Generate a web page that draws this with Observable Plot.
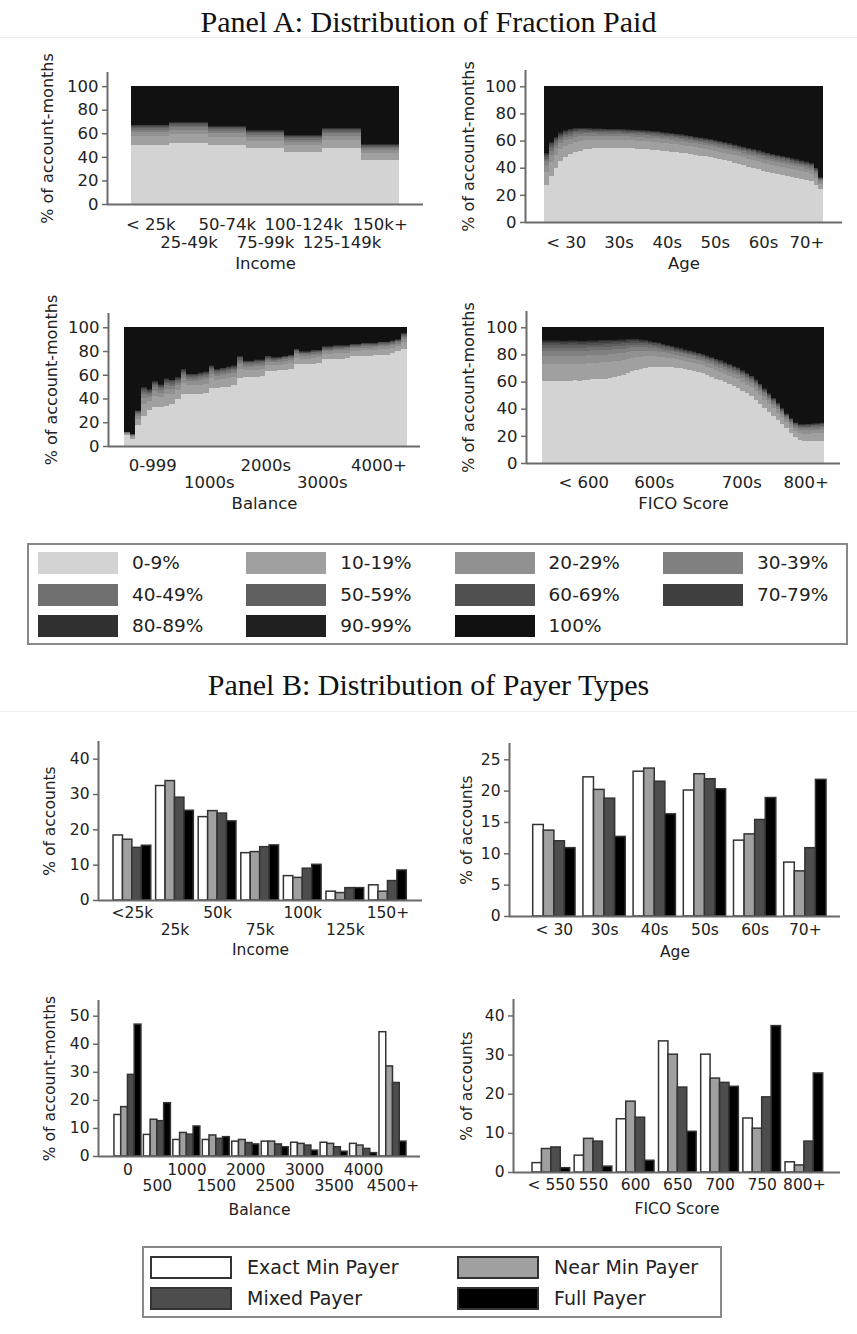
<!DOCTYPE html>
<html><head><meta charset="utf-8">
<script src="https://cdn.jsdelivr.net/npm/d3@7"></script>
<script src="https://cdn.jsdelivr.net/npm/@observablehq/plot@0.6"></script>
<style>
body{margin:0;background:#fff;font-family:"DejaVu Sans",sans-serif;}
#page{position:relative;width:857px;height:1334px;overflow:hidden;background:#fff;}
.chart{position:absolute;}
.title{position:absolute;left:0;width:857px;text-align:center;font-family:"Liberation Serif",serif;font-size:30px;line-height:30px;color:#111;white-space:nowrap;}
.hline{position:absolute;left:0;width:857px;height:1px;background:#eceff0;}
.legend{position:absolute;border:2px solid #888;box-sizing:border-box;background:#fff;}
.sw{position:absolute;box-sizing:border-box;}
.lt{position:absolute;font-family:"DejaVu Sans",sans-serif;color:#222;white-space:nowrap;}
</style></head><body><div id="page"></div>
<script>
// ---------------- Panel A data ----------------
const fracBins = ["0-9%","10-19%","20-29%","30-39%","40-49%","50-59%","60-69%","70-79%","80-89%","90-99%","100%"];
const fracColors = ["#d3d3d3","#a0a0a0","#909090","#808080","#707070","#606060","#505050","#404040","#303030","#202020","#111111"];
// relative split of the band between "0-9%" and "100%" among the nine middle bins
const midWeights = [0.42,0.2,0.12,0.08,0.06,0.045,0.035,0.025,0.015];

const incomeCatsA = ["< 25k","25-49k","50-74k","75-99k","100-124k","125-149k","150k+"];
const incomeA_0_9 = [50, 51.4, 50, 47.2, 43.8, 47.2, 37.4];
const incomeA_below100 = [67.4, 69.7, 66.3, 62.6, 58.4, 64.6, 50.8];

const agesA = d3.range(20, 78);
const ageA_0_9 = [27,34,40,45,48,50,51.5,52.5,53.5,54,54.3,54.5,54.6,54.6,54.6,54.6,54.5,54.4,54.3,54.1,53.9,53.6,53.3,53,52.6,52.2,51.8,51.4,51,50.5,50,49.5,49,48.3,47.6,47,46.3,45.5,44.6,43.7,42.7,41.7,40.7,39.7,38.7,37.8,36.9,36,35.2,34.4,33.6,32.9,32.2,31.5,30.8,30,27.5,24.5];
const ageA_below100 = [51,59,63,66,67.5,68.5,69.2,69.5,69.5,69.3,69.1,68.9,68.8,68.7,68.6,68.5,68.4,68.3,68.1,67.9,67.7,67.5,67.2,66.9,66.5,66.1,65.7,65.2,64.7,64.2,63.6,63,62.4,61.8,61.1,60.4,59.7,58.9,58.1,57.3,56.5,55.6,54.7,53.8,52.9,52,51.1,50.3,49.5,48.7,47.9,47.1,46.3,45.5,44.7,43.5,40,33];
const ageTicksA = [24.5,35.5,45.5,55.5,65.5,74.5];
const ageLabelsA = ["< 30","30s","40s","50s","60s","70+"];

const balanceA = d3.range(0, 5000, 100);
const balA_0_9 = [9,6,18,25,30,33,33,34,35,40,44,44,44,44,45,49,49,50,50,51,57,58,58,58,59,63,63,64,64,65,69,69,69,69,70,73,73,73,73,74,76,76,76,76,77,77,77,78,80,82];
const balA_below100 = [12,10,30,50,48,55,52,57,56,58,65,61,61,62,63,68,65,66,67,68,76,72,72,73,73,76,75,75,76,77,82,80,80,81,81,84,84,85,85,85,86,86,87,87,87,88,88,89,90,95];
const balTicksA = [500,1500,2500,3500,4500];
const balLabelsA = ["0-999","1000s","2000s","3000s","4000+"];

const ficoA = d3.range(525, 845, 5);
const ficoA_0_9 = [60.5,60.5,60.5,60.5,60.5,60.3,60.5,60.8,60.5,61,61.3,61.6,62,62.2,62.2,62.5,63.5,64,64.6,66,67.5,68.5,69.3,70,70.5,70.7,70.7,70.7,70.6,70.4,70.1,69.8,69.3,68.7,68,67,66,64.8,63.5,62.2,60.8,59.5,58,56.5,55,53.3,51.5,49.5,46.5,43.5,40.5,37.5,34.5,31.5,28.5,25.5,22,19,17,16.3,16.3,16.5,16.3,16.5];
const ficoA_below100 = [90.5,90.5,90.3,90.3,90.2,90.2,90.3,90.3,90.2,90.2,90.4,90.5,90.6,90.7,90.8,90.9,91,91.2,91.3,91.4,91.5,91.4,91.1,90.7,90.2,89.5,88.8,88,87.2,86.3,85.4,84.6,83.8,83,82.2,81.4,80.4,79.3,78.2,77,75.8,74.4,73,71.6,70.6,68.5,66.4,64.4,61.7,58.5,55,51.5,48,44.5,40.5,36.5,33,30,28.8,28.8,29,29.2,29.5,30];
const ficoTicksA = [572,652,751,824];
const ficoLabelsA = ["< 600","600s","700s","800+"];

const yTicksA = [0,20,40,60,80,100];

// ---------------- Panel B data ----------------
const payerTypes = ["Exact Min Payer","Near Min Payer","Mixed Payer","Full Payer"];
const payerColors = ["#ffffff","#a0a0a0","#4d4d4d","#000000"];

const incomeGroupsB = ["<25k","25k","50k","75k","100k","125k","150+"];
const incExact = [18.4,32.4,23.6,13.4,6.9,2.5,4.3];
const incNear  = [17.2,33.8,25.3,13.7,6.4,2.1,2.5];
const incMixed = [14.9,29.1,24.6,15.1,9.0,3.5,5.5];
const incFull  = [15.5,25.4,22.4,15.6,10.1,3.5,8.5];

const ageGroupsB = ["< 30","30s","40s","50s","60s","70+"];
const ageExact = [14.6,22.2,23.1,20.1,12.1,8.6];
const ageNear  = [13.7,20.2,23.6,22.7,13.1,7.2];
const ageMixed = [12.0,18.8,21.5,21.9,15.4,10.9];
const ageFull  = [10.9,12.7,16.3,20.3,18.9,21.8];

const balGroupsB = ["0","500","1000","1500","2000","2500","3000","3500","4000","4500+"];
const balExact = [14.8,7.7,5.9,5.9,5.3,5.3,4.9,4.9,4.5,44.3];
const balNear  = [17.6,13.1,8.4,7.5,5.9,5.3,4.5,4.5,3.9,32.1];
const balMixed = [29.1,12.6,7.8,6.3,4.8,4.3,3.9,3.3,2.7,26.2];
const balFull  = [47.0,19.0,10.7,6.9,4.3,3.3,2.1,1.7,1.2,5.3];

const ficoGroupsB = ["< 550","550","600","650","700","750","800+"];
const ficoExact = [2.4,4.3,13.6,33.5,30.1,13.8,2.6];
const ficoNear  = [6.0,8.6,18.1,30.1,24.0,11.2,1.8];
const ficoMixed = [6.4,7.9,14.0,21.7,22.9,19.2,7.9];
const ficoFull  = [1.1,1.5,3.0,10.4,21.9,37.4,25.3];

// ---------------- builders ----------------
const page = document.getElementById("page");

function fracRows(starts, width, lo, below) {
  const rows = [];
  starts.forEach((s, i) => {
    const mid = below[i] - lo[i];
    fracBins.forEach((b, k) => {
      const v = k === 0 ? lo[i] : k === fracBins.length - 1 ? 100 - below[i] : mid * midWeights[k - 1];
      rows.push({x1: s, x2: s + width, bin: b, value: v});
    });
  });
  return rows;
}

function groupRows(groups, series, gw) {
  const rows = [];
  groups.forEach((g, i) => {
    series.forEach((arr, k) => {
      rows.push({x1: i - gw / 2 + k * gw / 4, x2: i - gw / 2 + (k + 1) * gw / 4, type: payerTypes[k], value: arr[i]});
    });
  });
  return rows;
}

function makeChart(cfg, dataMarks, colorOpt) {
  const ticks = cfg.ticks;
  const fs = cfg.fs;
  const marks = [
    ...dataMarks,
    Plot.ruleY([0], {stroke: "#6a6a6a", strokeWidth: 2}),
    Plot.ruleX([cfg.xDomain[0]], {y1: 0, y2: cfg.yMax, stroke: "#6a6a6a", strokeWidth: 2}),
    Plot.axisY({ticks: cfg.yTicks, tickSize: 5, tickPadding: 4, stroke: "#6a6a6a", strokeWidth: 1.5, fill: "#222", fontSize: fs, label: null, tickFormat: d => String(d)}),
    Plot.text(ticks.filter(t => t.row === 0), {x: "pos", y: () => 0, text: "label", dy: cfg.row1, fill: "#222", fontSize: fs, lineAnchor: "middle", textAnchor: "middle"}),
    Plot.text(ticks.filter(t => t.row === 1), {x: "pos", y: () => 0, text: "label", dy: cfg.row2 || 0, fill: "#222", fontSize: fs, lineAnchor: "middle", textAnchor: "middle"}),
    Plot.text([cfg.xTitle], {text: d => d, frameAnchor: "bottom", dy: cfg.titleDy, fill: "#222", fontSize: fs, lineAnchor: "middle", textAnchor: "middle"}),
    Plot.text([cfg.yTitle], {text: d => d, frameAnchor: "left", rotate: -90, dx: cfg.yTitleDx, fill: "#222", fontSize: cfg.yfs, lineAnchor: "middle", textAnchor: "middle"})
  ];
  const svg = Plot.plot({
    width: cfg.width, height: cfg.height,
    marginLeft: cfg.ml, marginRight: cfg.mr, marginTop: cfg.mt, marginBottom: cfg.mb,
    x: {domain: cfg.xDomain, axis: null},
    y: {domain: [0, cfg.yMax], axis: null},
    color: colorOpt,
    style: {fontFamily: "DejaVu Sans", fontSize: fs + "px", color: "#222", background: "transparent", overflow: "visible"},
    marks
  });
  const div = document.createElement("div");
  div.className = "chart";
  div.style.left = cfg.left + "px";
  div.style.top = cfg.top + "px";
  div.style.width = cfg.width + "px";
  div.appendChild(svg);
  page.appendChild(div);
}

const fracColor = {domain: fracBins, range: fracColors};
const payerColor = {domain: payerTypes, range: payerColors};

function fracMark(rows) {
  return Plot.rectY(rows, {x1: "x1", x2: "x2", y: "value", fill: "bin", shapeRendering: "crispEdges"});
}
function barMark(rows) {
  return Plot.rectY(rows, {x1: "x1", x2: "x2", y1: 0, y2: "value", fill: "type", stroke: "#333", strokeWidth: 1.5});
}

// ---------------- titles ----------------
function addTitle(text, top, lineTop) {
  const t = document.createElement("div");
  t.className = "title"; t.style.top = top + "px"; t.textContent = text;
  page.appendChild(t);
  const l = document.createElement("div");
  l.className = "hline"; l.style.top = lineTop + "px";
  page.appendChild(l);
}
addTitle("Panel A: Distribution of Fraction Paid", 7, 37);
addTitle("Panel B: Distribution of Payer Types", 670, 711);

// ---------------- Panel A charts ----------------
const fsA = 16.5, fsB = 15.5;
makeChart({
  left: 0, top: 50, width: 430, height: 226, ml: 107, mr: 7, mt: 22, mb: 72, fs: fsA, yfs: 16,
  xDomain: [-0.63, 7.63], yMax: 112, yTicks: yTicksA,
  ticks: incomeCatsA.map((c, i) => ({pos: i + 0.5, label: c, row: i % 2})),
  row1: 20, row2: 38, xTitle: "Income", titleDy: 59,
  yTitle: "% of account-months", yTitleDx: -60
}, [fracMark(fracRows(incomeCatsA.map((c, i) => i), 1, incomeA_0_9, incomeA_below100))], fracColor);

makeChart({
  left: 430, top: 50, width: 427, height: 226, ml: 95, mr: 15, mt: 20, mb: 54, fs: fsA, yfs: 16,
  xDomain: [16.05, 81.9], yMax: 112, yTicks: yTicksA,
  ticks: ageTicksA.map((p, i) => ({pos: p, label: ageLabelsA[i], row: 0})),
  row1: 20, xTitle: "Age", titleDy: 41,
  yTitle: "% of account-months", yTitleDx: -57
}, [fracMark(fracRows(agesA, 1, ageA_0_9, ageA_below100))], fracColor);

makeChart({
  left: 0, top: 290, width: 430, height: 226, ml: 108, mr: 10, mt: 23, mb: 70, fs: fsA, yfs: 16,
  xDomain: [-283, 5235], yMax: 112, yTicks: yTicksA,
  ticks: balTicksA.map((p, i) => ({pos: p, label: balLabelsA[i], row: i % 2})),
  row1: 19, row2: 36, xTitle: "Balance", titleDy: 57,
  yTitle: "% of account-months", yTitleDx: -57
}, [fracMark(fracRows(balanceA, 100, balA_0_9, balA_below100))], fracColor);

makeChart({
  left: 430, top: 290, width: 427, height: 226, ml: 96, mr: 17, mt: 21, mb: 53, fs: fsA, yfs: 16,
  xDomain: [507, 863], yMax: 112, yTicks: yTicksA,
  ticks: ficoTicksA.map((p, i) => ({pos: p, label: ficoLabelsA[i], row: 0})),
  row1: 19, xTitle: "FICO Score", titleDy: 40,
  yTitle: "% of account-months", yTitleDx: -58
}, [fracMark(fracRows(ficoA, 5, ficoA_0_9, ficoA_below100))], fracColor);

// ---------------- Panel B charts ----------------
makeChart({
  left: 0, top: 725, width: 430, height: 235, ml: 98, mr: 8, mt: 16, mb: 60, fs: fsB, yfs: 15.5,
  xDomain: [-0.796, 6.812], yMax: 45, yTicks: [0,10,20,30,40],
  ticks: incomeGroupsB.map((g, i) => ({pos: i, label: g, row: i % 2})),
  row1: 13, row2: 30, xTitle: "Income", titleDy: 50,
  yTitle: "% of accounts", yTitleDx: -48
}, [barMark(groupRows(incomeGroupsB, [incExact, incNear, incMixed, incFull], 0.886))], payerColor);

makeChart({
  left: 430, top: 725, width: 427, height: 235, ml: 79, mr: 17, mt: 18, mb: 44, fs: fsB, yfs: 15.5,
  xDomain: [-0.894, 5.70], yMax: 27.6, yTicks: [0,5,10,15,20,25],
  ticks: ageGroupsB.map((g, i) => ({pos: i, label: g, row: 0})),
  row1: 14, xTitle: "Age", titleDy: 36,
  yTitle: "% of accounts", yTitleDx: -42
}, [barMark(groupRows(ageGroupsB, [ageExact, ageNear, ageMixed, ageFull], 0.843))], payerColor);

makeChart({
  left: 0, top: 985, width: 430, height: 235, ml: 98, mr: 10, mt: 15, mb: 64, fs: fsB, yfs: 15.5,
  xDomain: [-1.0, 9.934], yMax: 55.6, yTicks: [0,10,20,30,40,50],
  ticks: balGroupsB.map((g, i) => ({pos: i, label: g, row: i % 2})),
  row1: 14, row2: 30, xTitle: "Balance", titleDy: 54,
  yTitle: "% of account-months", yTitleDx: -48
}, [barMark(groupRows(balGroupsB, [balExact, balNear, balMixed, balFull], 0.917))], payerColor);

makeChart({
  left: 430, top: 985, width: 427, height: 235, ml: 83, mr: 17, mt: 14, mb: 48, fs: fsB, yfs: 15.5,
  xDomain: [-0.897, 6.857], yMax: 44.2, yTicks: [0,10,20,30,40],
  ticks: ficoGroupsB.map((g, i) => ({pos: i, label: g, row: 0})),
  row1: 13, xTitle: "FICO Score", titleDy: 37,
  yTitle: "% of accounts", yTitleDx: -46
}, [barMark(groupRows(ficoGroupsB, [ficoExact, ficoNear, ficoMixed, ficoFull], 0.893))], payerColor);

// ---------------- Legends ----------------
function legend(box, labels, colors, cols, item) {
  const lg = document.createElement("div");
  lg.className = "legend";
  Object.assign(lg.style, {left: box.left + "px", top: box.top + "px", width: box.width + "px", height: box.height + "px"});
  labels.forEach((lab, i) => {
    const c = i % cols, r = Math.floor(i / cols);
    const sx = item.x0 + c * item.colStep, sy = item.y0 + r * item.rowStep;
    const sw = document.createElement("div");
    sw.className = "sw";
    Object.assign(sw.style, {left: sx + "px", top: sy + "px", width: item.sw + "px", height: item.sh + "px", background: colors[i], border: item.border});
    lg.appendChild(sw);
    const tx = document.createElement("div");
    tx.className = "lt";
    Object.assign(tx.style, {left: (sx + item.textOff) + "px", top: sy + "px", height: item.sh + "px", lineHeight: item.sh + "px", fontSize: item.fs + "px"});
    tx.textContent = lab;
    lg.appendChild(tx);
  });
  page.appendChild(lg);
}
legend({left: 27, top: 543, width: 821, height: 102}, fracBins, fracColors, 4,
  {x0: 9, y0: 7, colStep: 208.3, rowStep: 31.5, sw: 80, sh: 22, textOff: 94, fs: 18.5, border: "none"});
legend({left: 142, top: 1246, width: 580, height: 72}, payerTypes, payerColors, 2,
  {x0: 6, y0: 8, colStep: 307, rowStep: 31, sw: 82, sh: 23, textOff: 97, fs: 19, border: "2px solid #333"});
</script>
</body></html>
